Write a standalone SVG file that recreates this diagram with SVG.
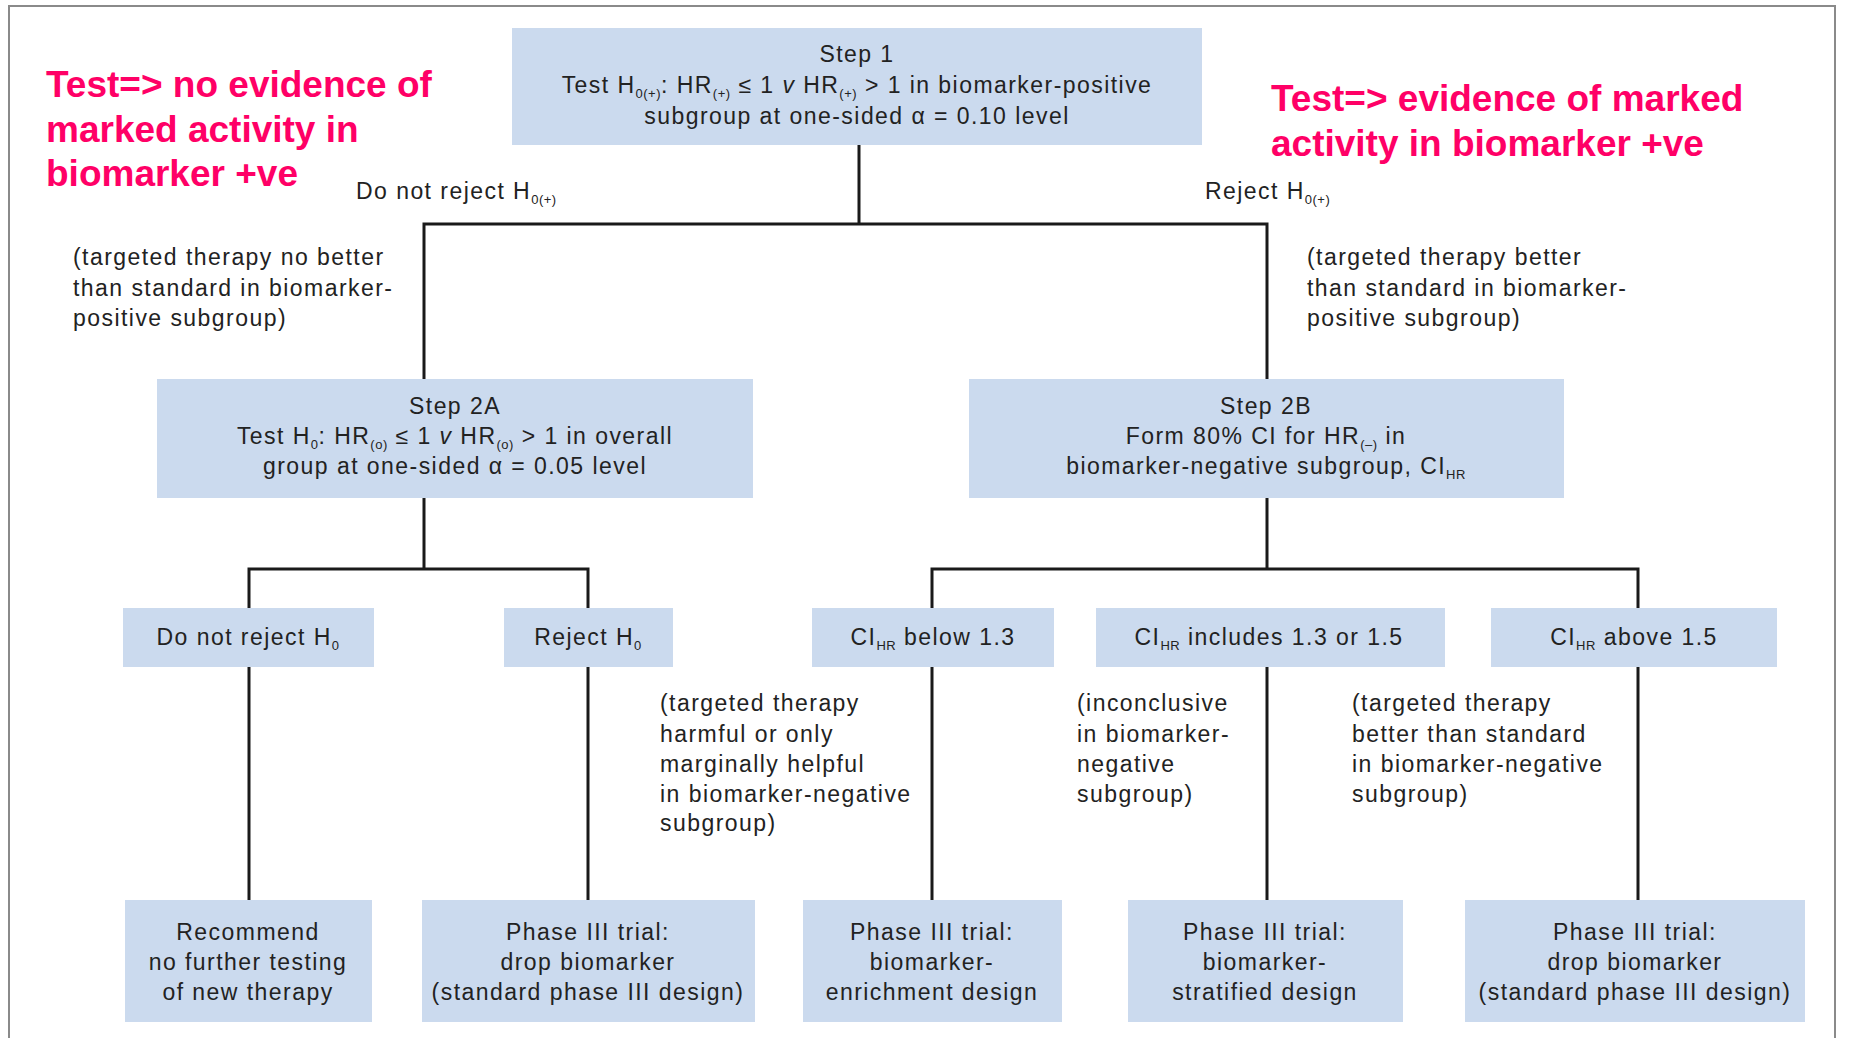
<svg xmlns="http://www.w3.org/2000/svg" width="1850" height="1038" viewBox="0 0 1850 1038">
<style>
.bx{fill:#CBDAEE}
.t{font-family:"Liberation Sans",Arial,sans-serif;font-size:23px;fill:#222;letter-spacing:1.45px}
.c{text-anchor:middle}
.s{font-size:13px;letter-spacing:0.5px}
.i{font-style:italic}
.red{font-family:"Liberation Sans",Arial,sans-serif;font-weight:bold;font-size:37px;fill:#FF0066}
.ln{stroke:#1a1a1a;stroke-width:3;fill:none}
</style>
<rect x="0" y="0" width="1850" height="1038" fill="#fff"/>
<rect x="9" y="6" width="1826" height="1050" fill="none" stroke="#8a8a8a" stroke-width="2"/>

<g id="connectors">
<path class="ln" d="M859 145V224M424 379V224H1267V379"/>
<path class="ln" d="M424 498V569M249 608V569H588V608"/>
<path class="ln" d="M1267 498V569M932 608V569H1638V608"/>
<path class="ln" d="M249 667V900M588 667V900M932 667V900M1267 667V900M1638 667V900"/>
</g>

<g id="step1">
<rect class="bx" x="512" y="28" width="690" height="117"/>
<text class="t c" x="857" y="62">Step 1</text>
<text class="t c" x="857" y="93">Test H<tspan class="s" dy="5">0(+)</tspan><tspan dy="-5">: HR</tspan><tspan class="s" dy="5">(+)</tspan><tspan dy="-5"> ≤ 1 </tspan><tspan class="i">v</tspan> HR<tspan class="s" dy="5">(+)</tspan><tspan dy="-5"> &gt; 1 in biomarker-positive</tspan></text>
<text class="t c" x="857" y="124">subgroup at one-sided α = 0.10 level</text>
</g>

<g id="step2a">
<rect class="bx" x="157" y="379" width="596" height="119"/>
<text class="t c" x="455" y="414">Step 2A</text>
<text class="t c" x="455" y="444">Test H<tspan class="s" dy="5">0</tspan><tspan dy="-5">: HR</tspan><tspan class="s" dy="5">(o)</tspan><tspan dy="-5"> ≤ 1 </tspan><tspan class="i">v</tspan> HR<tspan class="s" dy="5">(o)</tspan><tspan dy="-5"> &gt; 1 in overall</tspan></text>
<text class="t c" x="455" y="474">group at one-sided α = 0.05 level</text>
</g>

<g id="step2b">
<rect class="bx" x="969" y="379" width="595" height="119"/>
<text class="t c" x="1266" y="414">Step 2B</text>
<text class="t c" x="1266" y="444">Form 80% CI for HR<tspan class="s" dy="5">(–)</tspan><tspan dy="-5"> in</tspan></text>
<text class="t c" x="1266" y="474">biomarker-negative subgroup, CI<tspan class="s" dy="5">HR</tspan></text>
</g>

<g id="dnr-h0">
<rect class="bx" x="123" y="608" width="251" height="59"/>
<text class="t c" x="248" y="645">Do not reject H<tspan class="s" dy="5">0</tspan></text>
</g>
<g id="reject-h0">
<rect class="bx" x="504" y="608" width="169" height="59"/>
<text class="t c" x="588" y="645">Reject H<tspan class="s" dy="5">0</tspan></text>
</g>
<g id="ci-below">
<rect class="bx" x="812" y="608" width="242" height="59"/>
<text class="t c" x="933" y="645">CI<tspan class="s" dy="5">HR</tspan><tspan dy="-5"> below 1.3</tspan></text>
</g>
<g id="ci-includes">
<rect class="bx" x="1096" y="608" width="349" height="59"/>
<text class="t c" x="1269" y="645">CI<tspan class="s" dy="5">HR</tspan><tspan dy="-5"> includes 1.3 or 1.5</tspan></text>
</g>
<g id="ci-above">
<rect class="bx" x="1491" y="608" width="286" height="59"/>
<text class="t c" x="1634" y="645">CI<tspan class="s" dy="5">HR</tspan><tspan dy="-5"> above 1.5</tspan></text>
</g>

<g id="recommend">
<rect class="bx" x="125" y="900" width="247" height="122"/>
<text class="t c" x="248" y="940">Recommend</text>
<text class="t c" x="248" y="970">no further testing</text>
<text class="t c" x="248" y="1000">of new therapy</text>
</g>
<g id="drop1">
<rect class="bx" x="422" y="900" width="333" height="122"/>
<text class="t c" x="588" y="940">Phase III trial:</text>
<text class="t c" x="588" y="970">drop biomarker</text>
<text class="t c" x="588" y="1000">(standard phase III design)</text>
</g>
<g id="enrichment">
<rect class="bx" x="803" y="900" width="259" height="122"/>
<text class="t c" x="932" y="940">Phase III trial:</text>
<text class="t c" x="932" y="970">biomarker-</text>
<text class="t c" x="932" y="1000">enrichment design</text>
</g>
<g id="stratified">
<rect class="bx" x="1128" y="900" width="275" height="122"/>
<text class="t c" x="1265" y="940">Phase III trial:</text>
<text class="t c" x="1265" y="970">biomarker-</text>
<text class="t c" x="1265" y="1000">stratified design</text>
</g>
<g id="drop2">
<rect class="bx" x="1465" y="900" width="340" height="122"/>
<text class="t c" x="1635" y="940">Phase III trial:</text>
<text class="t c" x="1635" y="970">drop biomarker</text>
<text class="t c" x="1635" y="1000">(standard phase III design)</text>
</g>

<g id="labels">
<text class="t" x="356" y="199">Do not reject H<tspan class="s" dy="5">0(+)</tspan></text>
<text class="t" x="1205" y="199">Reject H<tspan class="s" dy="5">0(+)</tspan></text>
<text class="t" x="73" y="265">(targeted therapy no better</text>
<text class="t" x="73" y="296">than standard in biomarker-</text>
<text class="t" x="73" y="326">positive subgroup)</text>
<text class="t" x="1307" y="265">(targeted therapy better</text>
<text class="t" x="1307" y="296">than standard in biomarker-</text>
<text class="t" x="1307" y="326">positive subgroup)</text>
<text class="t" x="660" y="711">(targeted therapy</text>
<text class="t" x="660" y="742">harmful or only</text>
<text class="t" x="660" y="772">marginally helpful</text>
<text class="t" x="660" y="802">in biomarker-negative</text>
<text class="t" x="660" y="831">subgroup)</text>
<text class="t" x="1077" y="711">(inconclusive</text>
<text class="t" x="1077" y="742">in biomarker-</text>
<text class="t" x="1077" y="772">negative</text>
<text class="t" x="1077" y="802">subgroup)</text>
<text class="t" x="1352" y="711">(targeted therapy</text>
<text class="t" x="1352" y="742">better than standard</text>
<text class="t" x="1352" y="772">in biomarker-negative</text>
<text class="t" x="1352" y="802">subgroup)</text>
</g>

<g id="notes">
<text class="red" x="46" y="97">Test=&gt; no evidence of</text>
<text class="red" x="46" y="142">marked activity in</text>
<text class="red" x="46" y="186">biomarker +ve</text>
<text class="red" x="1271" y="111">Test=&gt; evidence of marked</text>
<text class="red" x="1271" y="156">activity in biomarker +ve</text>
</g>
</svg>
